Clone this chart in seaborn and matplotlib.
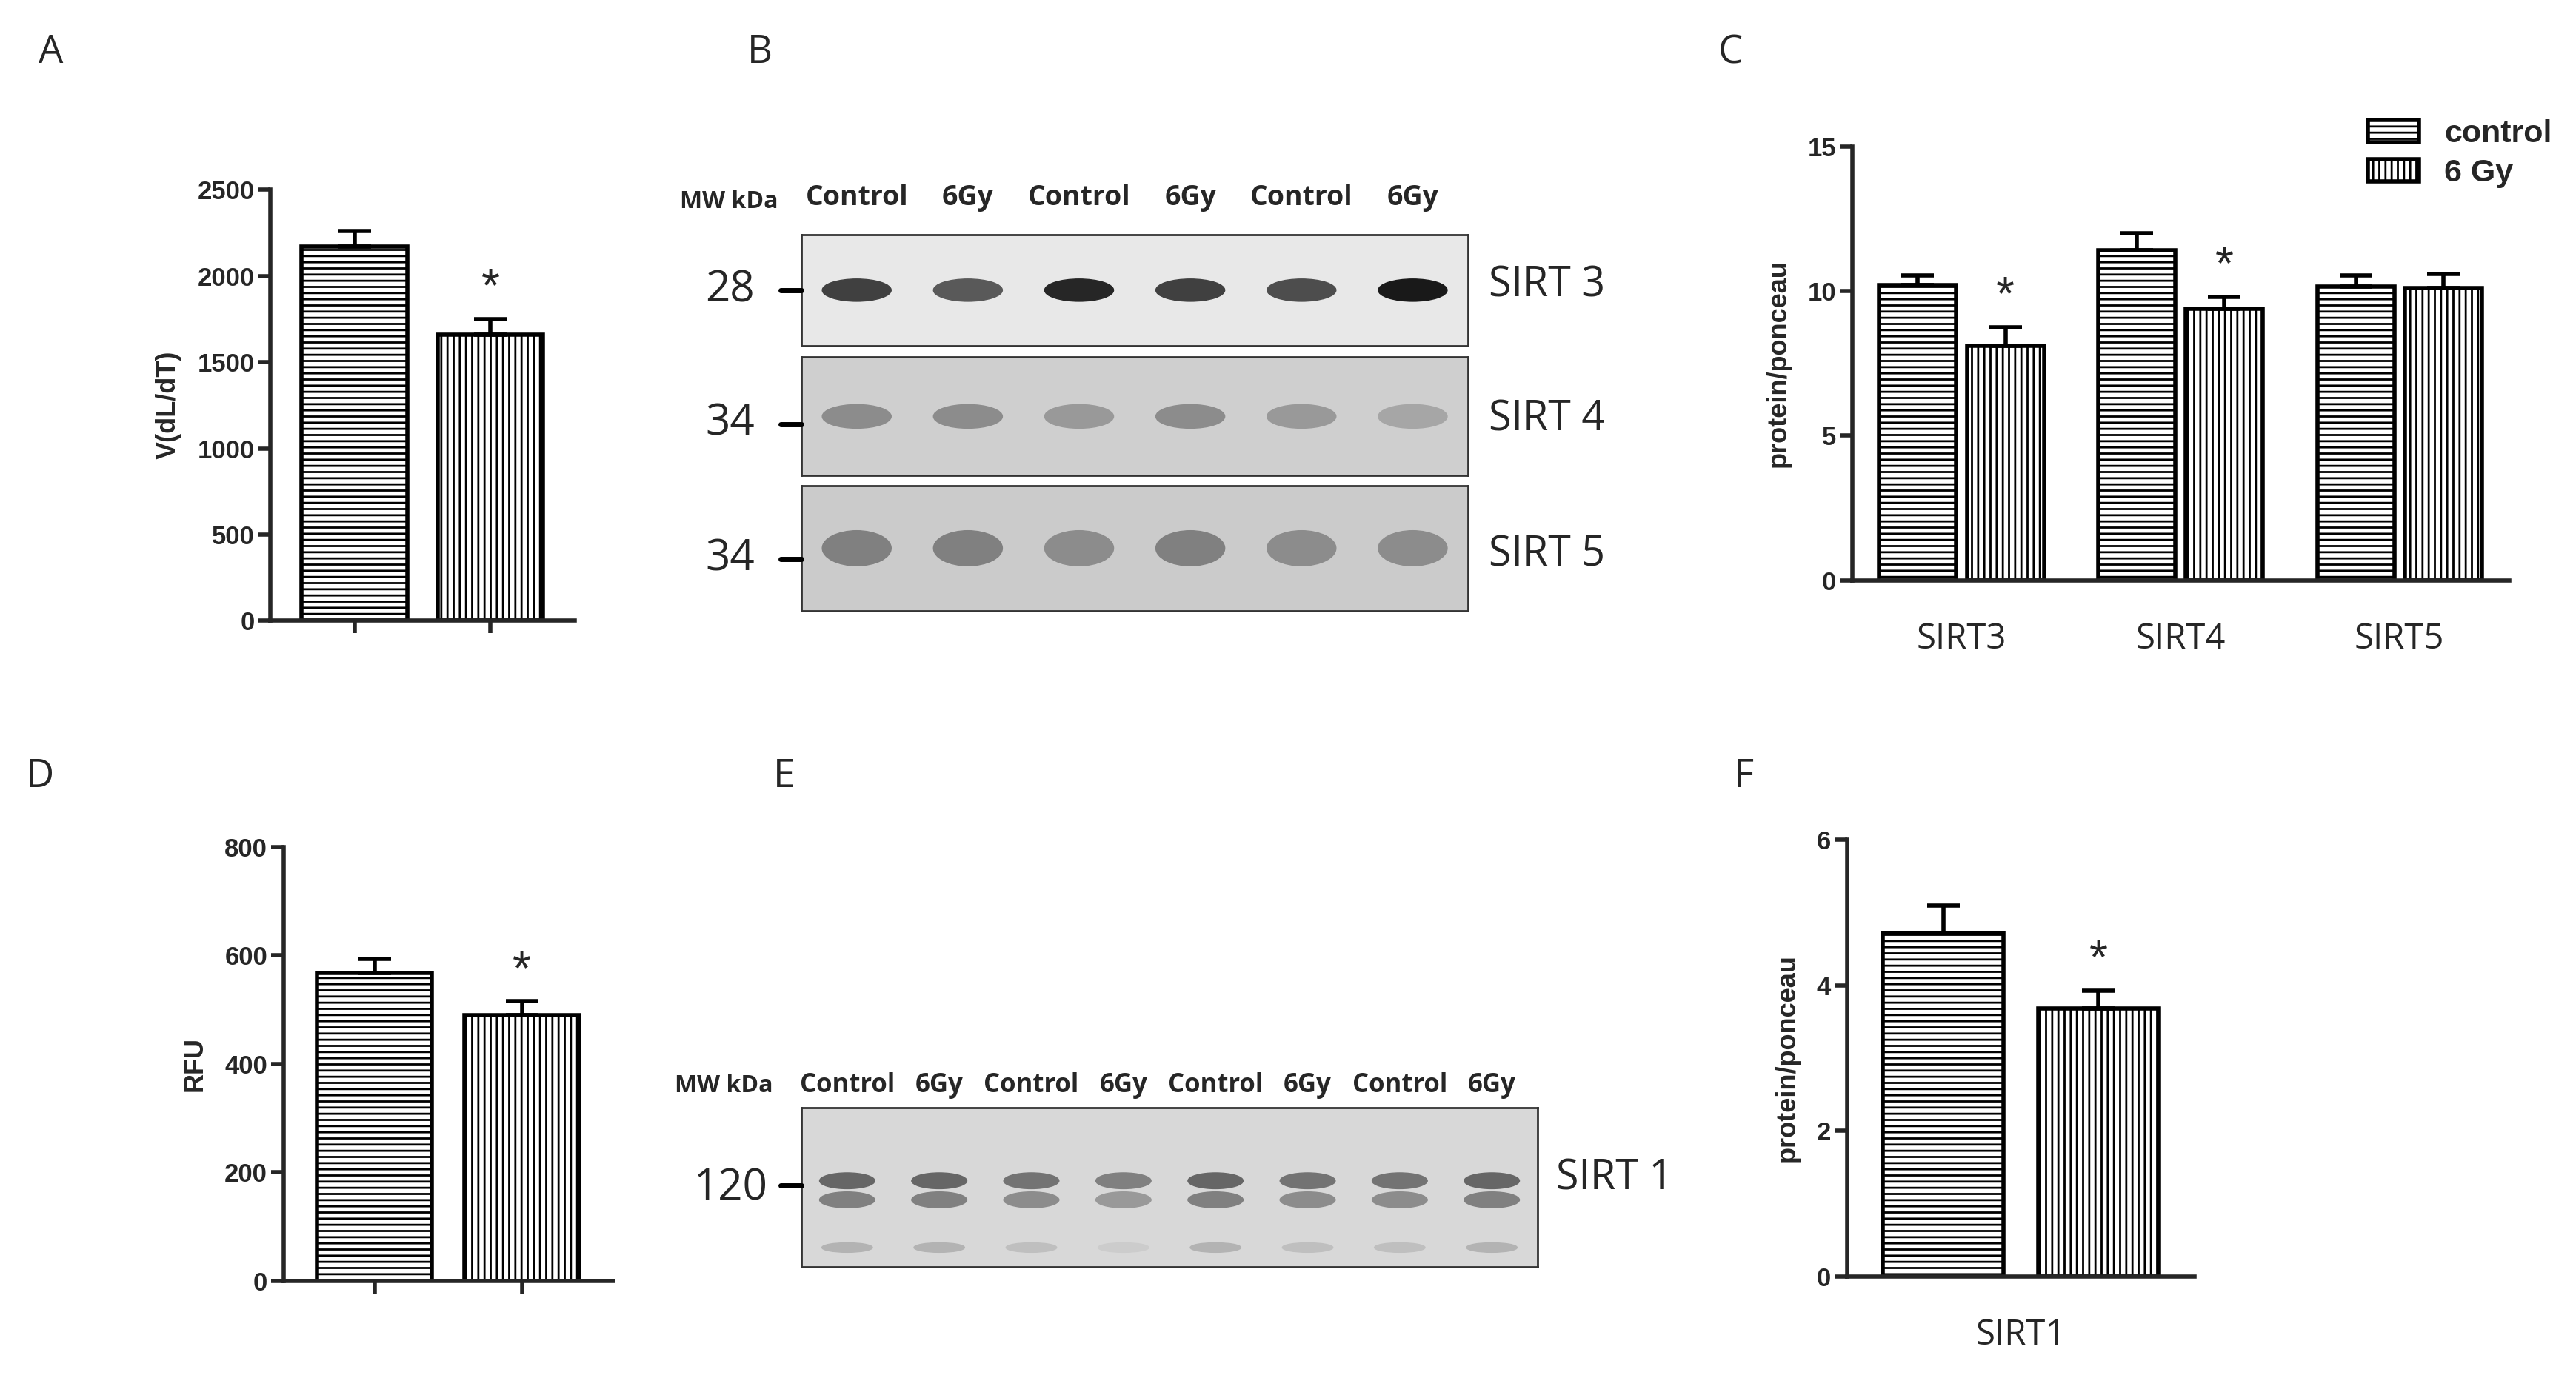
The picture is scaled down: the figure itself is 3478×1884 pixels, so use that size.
import matplotlib
matplotlib.use("Agg")
import matplotlib.pyplot as plt
import seaborn as sns
import numpy as np
import pandas as pd
from matplotlib.patches import Ellipse, Patch

sns.set_theme(style="ticks")
plt.rcParams['font.family'] = ['Liberation Sans', 'DejaVu Sans']
plt.rcParams['hatch.linewidth'] = 2.0

groups = ["control", "6 Gy"]
a_vals = [2170, 1660]; a_err = [90, 90]
d_vals = [568, 490]; d_err = [25, 25]
f_vals = [4.72, 3.68]; f_err = [0.38, 0.25]
c_cats = ["SIRT3", "SIRT4", "SIRT5"]
c_ctrl = [10.2, 11.4, 10.15]; c_ctrl_err = [0.35, 0.6, 0.4]
c_gy = [8.1, 9.4, 10.1]; c_gy_err = [0.65, 0.4, 0.5]

blot_b_lanes = ["Control", "6Gy", "Control", "6Gy", "Control", "6Gy"]
sirt3_int = [0.75, 0.65, 0.85, 0.75, 0.7, 0.9]
sirt4_int = [0.45, 0.45, 0.4, 0.45, 0.4, 0.35]
sirt5_int = [0.5, 0.5, 0.45, 0.5, 0.45, 0.45]
blot_e_lanes = ["Control", "6Gy", "Control", "6Gy", "Control", "6Gy", "Control", "6Gy"]
sirt1_int = [0.6, 0.6, 0.55, 0.5, 0.6, 0.55, 0.55, 0.6]

W, H = 3478, 1884
fig = plt.figure(figsize=(W/100, H/100), dpi=100)
hatches = ['--', '||']
TICK = 25

def bar_panel(rect, vals, errs, ylim, yticks, ylabel, xlabel=None, star_idx=1):
    ax = fig.add_axes(rect)
    df = pd.DataFrame({"g": groups, "v": vals})
    sns.barplot(data=df, x="g", y="v", color="white", edgecolor="black",
                linewidth=4, width=0.78, ax=ax)
    for p, h in zip(ax.patches, hatches):
        p.set_hatch(h)
    ax.errorbar(range(len(vals)), vals, yerr=[[0]*len(vals), errs], fmt='none',
                ecolor='black', elinewidth=4, capsize=16, capthick=4)
    ax.set_ylim(*ylim); ax.set_yticks(yticks)
    ax.set_xlim(-0.62, 1.62)
    ax.set_xticks([0.5] if xlabel else [0, 1])
    ax.set_xticklabels([xlabel] if xlabel else ["", ""], fontsize=34, family='Open Sans')
    ax.tick_params(axis='y', labelsize=TICK, width=4, length=12)
    ax.tick_params(axis='x', width=4, length=12 if not xlabel else 0, pad=40)
    for l in ax.get_yticklabels(): l.set_fontweight('bold')
    ax.set_xlabel(""); ax.set_ylabel(ylabel, fontsize=26, fontweight='bold', labelpad=16)
    sns.despine(ax=ax)
    for s in ["left", "bottom"]: ax.spines[s].set_linewidth(4)
    ax.text(star_idx, vals[star_idx] + errs[star_idx] + (ylim[1]-ylim[0])*0.04, "*",
            ha='center', fontsize=46)
    return ax

bar_panel([0.105, 0.555, 0.118, 0.309], a_vals, a_err, (0, 2500), range(0, 2501, 500), "V(dL/dT)")
bar_panel([0.110, 0.082, 0.128, 0.311], d_vals, d_err, (0, 800), range(0, 801, 200), "RFU")
bar_panel([0.717, 0.085, 0.135, 0.313], f_vals, f_err, (0, 6), range(0, 7, 2), "protein/ponceau", xlabel="SIRT1")

axc = fig.add_axes([0.719, 0.584, 0.255, 0.311])
dfc = pd.DataFrame({"cat": c_cats*2, "v": c_ctrl + c_gy,
                    "grp": ["control"]*3 + ["6 Gy"]*3})
sns.barplot(data=dfc, x="cat", y="v", hue="grp", palette=["white", "white"],
            edgecolor="black", linewidth=4, width=0.8, gap=0.12, ax=axc, legend=False)
pats = axc.patches
for i, p in enumerate(pats[:6]):
    p.set_hatch(hatches[i // 3])
xs_ctrl = [p.get_x() + p.get_width()/2 for p in pats[:3]]
xs_gy = [p.get_x() + p.get_width()/2 for p in pats[3:6]]
axc.errorbar(xs_ctrl, c_ctrl, yerr=[[0]*3, c_ctrl_err], fmt='none', ecolor='black', elinewidth=4, capsize=16, capthick=4)
axc.errorbar(xs_gy, c_gy, yerr=[[0]*3, c_gy_err], fmt='none', ecolor='black', elinewidth=4, capsize=16, capthick=4)
for i in [0, 1]:
    axc.text(xs_gy[i], c_gy[i] + c_gy_err[i] + 0.6, "*", ha='center', fontsize=46)
axc.set_ylim(0, 15); axc.set_yticks([0, 5, 10, 15])
axc.set_xlim(-0.5, 2.5)
axc.tick_params(axis='y', labelsize=TICK, width=4, length=12)
axc.tick_params(axis='x', length=0, pad=40)
axc.set_xticklabels(c_cats, fontsize=34, family='Open Sans')
for l in axc.get_yticklabels(): l.set_fontweight('bold')
axc.set_xlabel(""); axc.set_ylabel("protein/ponceau", fontsize=26, fontweight='bold', labelpad=16)
sns.despine(ax=axc)
for s in ["left", "bottom"]: axc.spines[s].set_linewidth(4)
handles = [Patch(facecolor='white', edgecolor='black', hatch=h, linewidth=4) for h in hatches]
fig.legend(handles, ["control", "6 Gy"], loc='upper left', bbox_to_anchor=(0.908, 0.935),
           frameon=False, prop={'weight': 'bold', 'size': 31}, handlelength=1.6, handleheight=0.7,
           labelspacing=0.3)

def blot(rect, intens, color_bg, band_h, double=False):
    ax = fig.add_axes(rect)
    ax.set_xlim(0, len(intens)); ax.set_ylim(0, 1)
    ax.set_facecolor(color_bg)
    for i, v in enumerate(intens):
        g = 1 - v
        if double:
            ax.add_patch(Ellipse((i + 0.5, 0.54), 0.6, band_h, color=str(g)))
            ax.add_patch(Ellipse((i + 0.5, 0.42), 0.6, band_h, color=str(min(1, g + 0.1))))
            ax.add_patch(Ellipse((i + 0.5, 0.12), 0.55, band_h*0.6, color=str(min(1, g + 0.3))))
        else:
            ax.add_patch(Ellipse((i + 0.5, 0.5), 0.62, band_h, color=str(g)))
    ax.set_xticks([]); ax.set_yticks([])
    for s in ax.spines.values(): s.set_linewidth(2); s.set_color('#333333')
    return ax

blot([0.311, 0.752, 0.259, 0.080], sirt3_int, '#e8e8e8', 0.2)
blot([0.311, 0.659, 0.259, 0.085], sirt4_int, '#cfcfcf', 0.2)
blot([0.311, 0.562, 0.259, 0.090], sirt5_int, '#cbcbcb', 0.28)
blot([0.311, 0.092, 0.286, 0.114], sirt1_int, '#d8d8d8', 0.1, double=True)

for i, lab in enumerate(blot_b_lanes):
    fig.text(0.311 + 0.259*(i + 0.5)/6, 0.853, lab, ha='center', fontsize=27, fontweight='bold', family='Open Sans')
fig.text(0.283, 0.851, "MW kDa", ha='center', fontsize=23, fontweight='bold', family='Open Sans')
for i, lab in enumerate(blot_e_lanes):
    fig.text(0.311 + 0.286*(i + 0.5)/8, 0.217, lab, ha='center', fontsize=25, fontweight='bold', family='Open Sans')
fig.text(0.281, 0.217, "MW kDa", ha='center', fontsize=23, fontweight='bold', family='Open Sans')

for y, mw, name in [(0.792, "28", "SIRT 3"), (0.696, "34", "SIRT 4"), (0.599, "34", "SIRT 5")]:
    fig.text(0.293, y, mw, ha='right', va='center', fontsize=42, family='Open Sans')
    fig.add_artist(plt.Line2D([0.303, 0.311], [y, y], color='black', lw=5))
    fig.text(0.578, y + 0.003, name, ha='left', va='center', fontsize=40, family='Open Sans')
fig.text(0.298, 0.148, "120", ha='right', va='center', fontsize=42, family='Open Sans')
fig.add_artist(plt.Line2D([0.303, 0.311], [0.150, 0.150], color='black', lw=5))
fig.text(0.604, 0.155, "SIRT 1", ha='left', va='center', fontsize=40, family='Open Sans')

for x, y, l in [(0.015, 0.962, "A"), (0.29, 0.962, "B"), (0.667, 0.962, "C"),
                (0.01, 0.443, "D"), (0.30, 0.443, "E"), (0.673, 0.443, "F")]:
    fig.text(x, y, l, fontsize=38, family='Open Sans', va='center')

fig.savefig("out.png", dpi=100)
